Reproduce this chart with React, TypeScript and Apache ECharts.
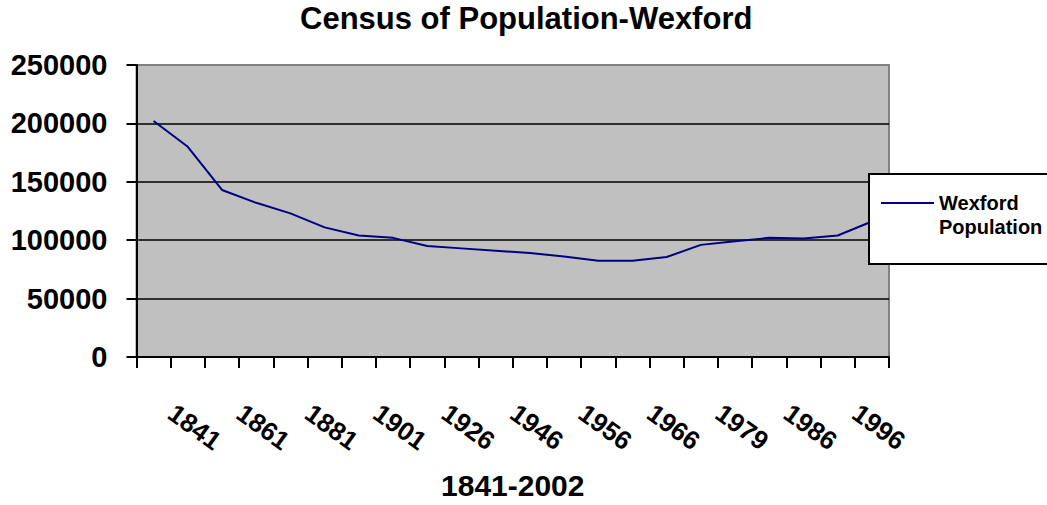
import React, { useEffect, useRef } from 'react';
import * as echarts from 'echarts';

const years = ['1841', '1851', '1861', '1871', '1881', '1891', '1901', '1911', '1926', '1936', '1946', '1951', '1956', '1961', '1966', '1971', '1979', '1981', '1986', '1991', '1996', '2002'];
const population = [202000, 180000, 143000, 132000, 123000, 111000, 104000, 102000, 95000, 93000, 91000, 89000, 86000, 82500, 82500, 85600, 96000, 99000, 102000, 101500, 104000, 116000];
const seriesName = 'Wexford Population';
const legendLines = ['Wexford', 'Population'];
const titleText = 'Census of Population-Wexford';
const xAxisName = '1841-2002';

const FONT = '"Liberation Sans", Arial, Helvetica, sans-serif';

export default function App() {
  const ref = useRef<HTMLDivElement>(null);
  useEffect(() => {
    const chart = echarts.init(ref.current!, null, { renderer: 'svg' });
    chart.setOption({
      animation: false,
      backgroundColor: '#ffffff',
      title: {
        text: titleText,
        left: 300,
        top: 3,
        padding: 0,
        textStyle: { fontFamily: FONT, fontSize: 31, fontWeight: 'bold', color: '#000' },
      },
      grid: {
        left: 136.5,
        right: 158,
        top: 65,
        bottom: 147,
        show: true,
        backgroundColor: '#C0C0C0',
        borderColor: '#808080',
        borderWidth: 2,
      },
      legend: {
        data: [seriesName],
        left: 881,
        top: 167,
        padding: 0,
        icon: 'rect',
        itemWidth: 53,
        itemHeight: 2,
        itemStyle: { color: '#000080' },
        formatter: () => '\n' + legendLines.join('\n'),
        textStyle: {
          fontFamily: FONT,
          fontSize: 20,
          fontWeight: 'bold',
          color: '#000',
          lineHeight: 24,
        },
      },
      graphic: {
        elements: [
          {
            type: 'rect',
            z: 3,
            shape: { x: 869, y: 174, width: 200, height: 90 },
            style: { fill: '#ffffff', stroke: '#000000', lineWidth: 2 },
          },
        ],
      },
      xAxis: {
        type: 'category',
        data: years,
        boundaryGap: true,
        name: xAxisName,
        nameLocation: 'middle',
        nameGap: 113,
        nameTextStyle: { fontFamily: FONT, fontSize: 30, fontWeight: 'bold', color: '#000' },
        axisLine: { show: true, lineStyle: { color: '#000', width: 2 } },
        axisTick: { show: true, interval: 0, length: 11, lineStyle: { color: '#000', width: 2 } },
        axisLabel: {
          interval: 1,
          rotate: -36,
          margin: 40,
          padding: [0, 0, 0, 22],
          fontFamily: FONT,
          fontSize: 26,
          fontWeight: 'bold',
          color: '#000',
        },
        splitLine: { show: false },
      },
      yAxis: {
        type: 'value',
        min: 0,
        max: 250000,
        interval: 50000,
        axisLine: { show: true, lineStyle: { color: '#000', width: 2 } },
        axisTick: { show: true, length: 10, lineStyle: { color: '#000', width: 2 } },
        axisLabel: {
          margin: 29,
          formatter: (v: number) => String(v),
          fontFamily: FONT,
          fontSize: 29,
          fontWeight: 'bold',
          color: '#000',
        },
        splitLine: {
          show: true,
          lineStyle: { color: ['#000', '#000', '#000', '#000', '#000', '#808080'], width: 1.5 },
        },
      },
      series: [
        {
          name: seriesName,
          type: 'line',
          data: population,
          symbol: 'none',
          showSymbol: false,
          lineStyle: { color: '#000080', width: 2 },
          itemStyle: { color: '#000080' },
          z: 2,
        },
      ],
    });
    return () => chart.dispose();
  }, []);
  return (
    <div
      ref={ref}
      style={{ position: 'fixed', left: 0, top: 0, width: 1047, height: 505, background: '#fff' }}
    />
  );
}
